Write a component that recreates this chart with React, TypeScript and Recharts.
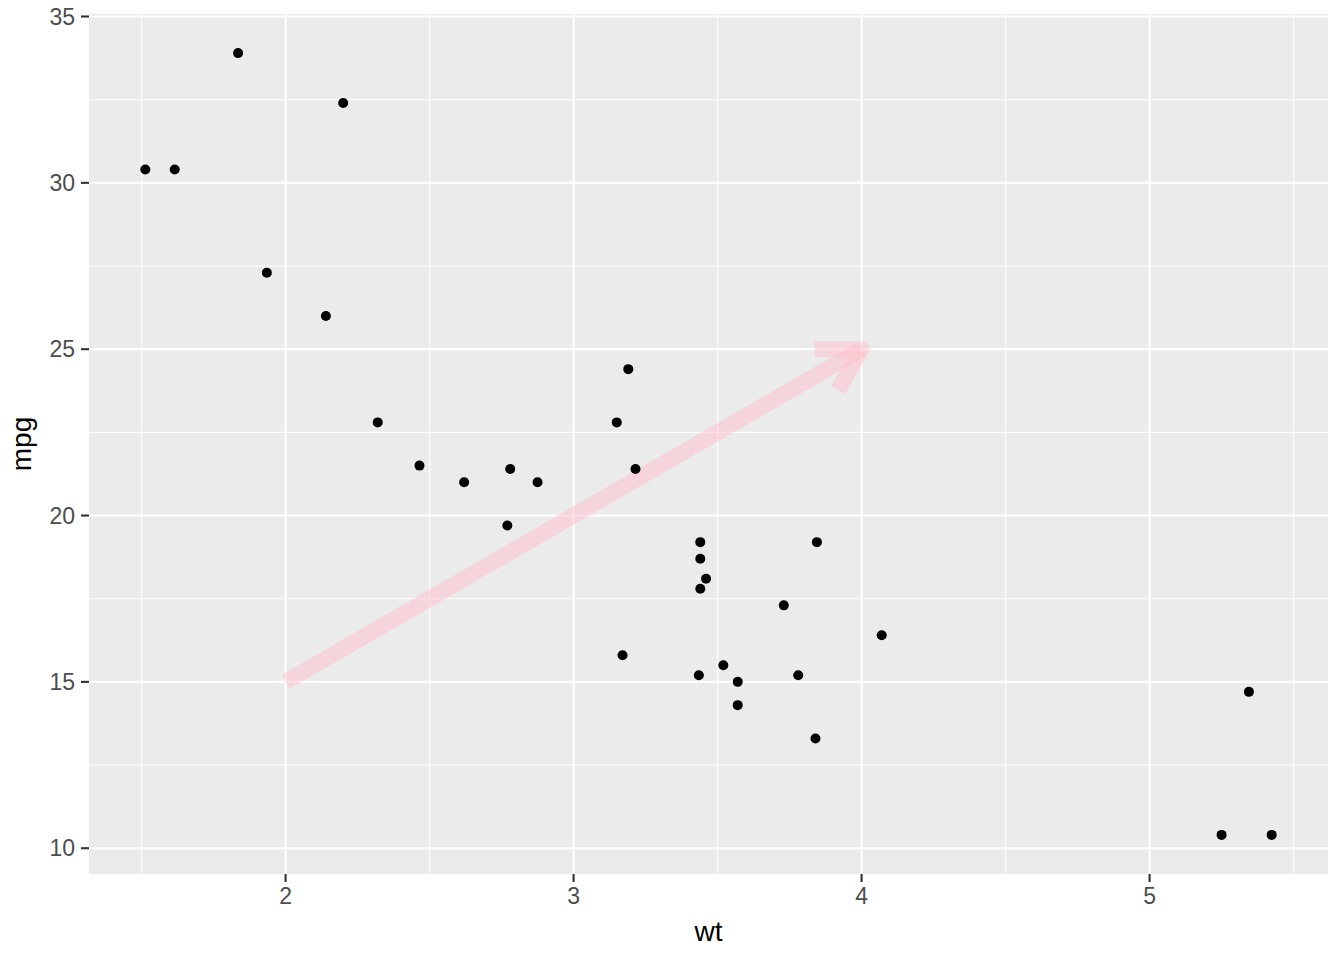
import React from 'react';
import {
  ScatterChart,
  Scatter,
  XAxis,
  YAxis,
  CartesianGrid,
  ReferenceLine,
  Label,
} from 'recharts';

// mtcars: weight (1000 lbs) and miles per gallon
const wt = [
  2.62, 2.875, 2.32, 3.215, 3.44, 3.46, 3.57, 3.19, 3.15, 3.44, 3.44, 4.07, 3.73, 3.78, 5.25, 5.424,
  5.345, 2.2, 1.615, 1.835, 2.465, 3.52, 3.435, 3.84, 3.845, 1.935, 2.14, 1.513, 3.17, 2.77, 3.57, 2.78,
];
const mpg = [
  21.0, 21.0, 22.8, 21.4, 18.7, 18.1, 14.3, 24.4, 22.8, 19.2, 17.8, 16.4, 17.3, 15.2, 10.4, 10.4,
  14.7, 32.4, 30.4, 33.9, 21.5, 15.5, 15.2, 13.3, 19.2, 27.3, 26.0, 30.4, 15.8, 19.7, 15.0, 21.4,
];

const xTicks = [2, 3, 4, 5];
const xMinor = [1.5, 2.5, 3.5, 4.5, 5.5];
const yTicks = [10, 15, 20, 25, 30, 35];
const yMinor = [12.5, 17.5, 22.5, 27.5, 32.5];

const arrowFrom = { x: 2, y: 15 };
const arrowTo = { x: 4, y: 25 };

const data = wt.map((w, i) => ({ wt: w, mpg: mpg[i] }));

const expand = (vals: number[]): [number, number] => {
  const lo = Math.min(...vals);
  const hi = Math.max(...vals);
  const pad = (hi - lo) * 0.05;
  return [lo - pad, hi + pad];
};

const FONT = '"Liberation Sans", Arial, Helvetica, sans-serif';
const PINK = '#FFC0CB';

const ArrowShape = (props: any) => {
  const { x1, y1, x2, y2 } = props;
  if ([x1, y1, x2, y2].some((v) => typeof v !== 'number' || isNaN(v))) return <g />;
  const back = Math.atan2(y1 - y2, x1 - x2);
  const L = 47;
  const a = Math.PI / 6;
  const p1 = [x2 + L * Math.cos(back + a), y2 + L * Math.sin(back + a)];
  const p2 = [x2 + L * Math.cos(back - a), y2 + L * Math.sin(back - a)];
  return (
    <g>
      <line
        x1={x1}
        y1={y1}
        x2={x2}
        y2={y2}
        stroke={PINK}
        strokeOpacity={0.5}
        strokeWidth={16}
        strokeLinecap="butt"
      />
      <polyline
        points={`${p1[0]},${p1[1]} ${x2},${y2} ${p2[0]},${p2[1]}`}
        fill="none"
        stroke={PINK}
        strokeOpacity={0.5}
        strokeWidth={16}
        strokeLinecap="butt"
        strokeLinejoin="round"
      />
    </g>
  );
};

const Dot = (props: any) => {
  const { cx, cy } = props;
  return <circle cx={cx} cy={cy} r={5} fill="#000000" />;
};

const YTitle = (props: any) => {
  const vb = props.viewBox || { x: 0, y: 0, width: 0, height: 0 };
  const cx = vb.x + 31;
  const cy = vb.y + vb.height / 2;
  return (
    <text
      x={cx}
      y={cy}
      transform={`rotate(-90, ${cx}, ${cy})`}
      textAnchor="middle"
      fontSize={28}
      fontFamily={FONT}
      fill="#000000"
    >
      mpg
    </text>
  );
};

export default function App() {
  return (
    <div style={{ position: 'absolute', left: 0, top: 0, width: 1344, height: 960, background: '#FFFFFF', fontFamily: FONT }}>
      <ScatterChart width={1344} height={960} margin={{ top: 14, right: 16, bottom: 0, left: 0 }}>
        <CartesianGrid
          fill="#EBEBEB"
          stroke="#FFFFFF"
          strokeWidth={1.07}
          horizontalValues={yMinor}
          verticalValues={xMinor}
        />
        <CartesianGrid
          fill="none"
          stroke="#FFFFFF"
          strokeWidth={2.13}
          horizontalValues={yTicks}
          verticalValues={xTicks}
        />
        <XAxis
          type="number"
          dataKey="wt"
          domain={expand(wt)}
          allowDataOverflow
          ticks={xTicks}
          interval={0}
          height={86}
          axisLine={false}
          tickSize={8}
          tickMargin={6}
          tickLine={{ stroke: '#333333', strokeWidth: 2.1 }}
          tick={{ fill: '#4D4D4D', fontSize: 23, fontFamily: FONT }}
        >
          <Label value="wt" position="insideBottom" offset={19} fontSize={28} fill="#000000" fontFamily={FONT} />
        </XAxis>
        <YAxis
          type="number"
          dataKey="mpg"
          domain={expand(mpg)}
          allowDataOverflow
          ticks={yTicks}
          interval={0}
          width={89}
          axisLine={false}
          tickSize={8}
          tickMargin={6}
          tickLine={{ stroke: '#333333', strokeWidth: 2.1 }}
          tick={{ fill: '#4D4D4D', fontSize: 23, fontFamily: FONT }}
        >
          <Label content={YTitle} />
        </YAxis>
        <Scatter data={data} shape={Dot} isAnimationActive={false} />
        <ReferenceLine
          segment={[arrowFrom, arrowTo]}
          shape={ArrowShape}
          ifOverflow="visible"
        />
      </ScatterChart>
    </div>
  );
}
